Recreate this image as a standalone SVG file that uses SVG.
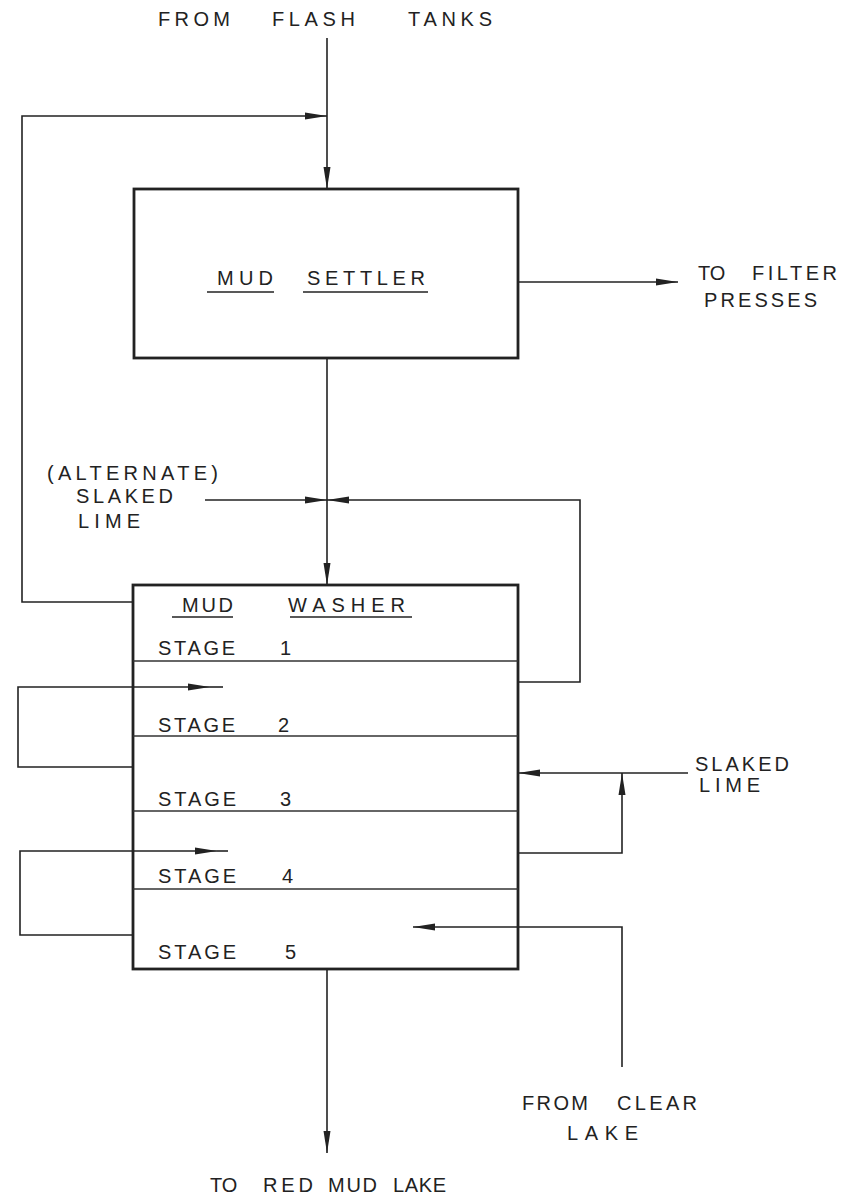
<svg xmlns="http://www.w3.org/2000/svg" width="863" height="1198" viewBox="0 0 863 1198">
<defs>
<marker id="arr" markerUnits="userSpaceOnUse" markerWidth="24" markerHeight="12" viewBox="0 0 24 12" refX="22" refY="6" orient="auto">
<path d="M0,2.5 L22,6 L0,9.5 Z" fill="#222"/>
</marker>
<style>
text{font-family:"Liberation Sans","DejaVu Sans",sans-serif;font-size:20px;fill:#222;}
.box{fill:none;stroke:#222;stroke-width:2.8;}
.div{stroke:#333;stroke-width:1.4;fill:none;}
.c{fill:none;stroke:#222;stroke-width:1.6;}
.ul{stroke:#222;stroke-width:1.7;}
</style>
</defs>
<rect width="863" height="1198" fill="#fff"/>

<g id="connectors">
<path class="c" d="M327,38 V189" marker-end="url(#arr)"/>
<path class="c" d="M133,602 H22 V116 H327" marker-end="url(#arr)"/>
<path class="c" d="M518,282 H678" marker-end="url(#arr)"/>
<path class="c" d="M327,358 V585" marker-end="url(#arr)"/>
<path class="c" d="M205,500 H327" marker-end="url(#arr)"/>
<path class="c" d="M518,682 H580 V500 H327" marker-end="url(#arr)"/>
<path class="c" d="M133,767 H18 V687 H210" marker-end="url(#arr)"/>
<path class="c" d="M210,687 H223"/>
<path class="c" d="M133,935 H20 V851 H217" marker-end="url(#arr)"/>
<path class="c" d="M217,851 H228"/>
<path class="c" d="M688,773 H518" marker-end="url(#arr)"/>
<path class="c" d="M518,853 H622 V773" marker-end="url(#arr)"/>
<path class="c" d="M622,1067 V927 H413" marker-end="url(#arr)"/>
<path class="c" d="M327,969 V1153" marker-end="url(#arr)"/>
</g>

<g id="mud-settler">
<rect class="box" x="134" y="189" width="384" height="169"/>
<text x="217" y="285" textLength="56" lengthAdjust="spacing">MUD</text>
<text x="307" y="285" textLength="118" lengthAdjust="spacing">SETTLER</text>
<line class="ul" x1="207" y1="292" x2="274" y2="292"/>
<line class="ul" x1="303" y1="292" x2="428" y2="292"/>
</g>

<g id="mud-washer">
<rect class="box" x="133" y="585" width="385" height="384"/>
<text x="182" y="612" textLength="51" lengthAdjust="spacing">MUD</text>
<text x="288" y="612" textLength="117" lengthAdjust="spacing">WASHER</text>
<line class="ul" x1="172" y1="617" x2="233" y2="617"/>
<line class="ul" x1="290" y1="617" x2="412" y2="617"/>
<line class="div" x1="133" y1="661" x2="518" y2="661"/>
<line class="div" x1="133" y1="736" x2="518" y2="736"/>
<line class="div" x1="133" y1="811" x2="518" y2="811"/>
<line class="div" x1="133" y1="889" x2="518" y2="889"/>
</g>

<g id="stage-1"><text x="158" y="655" textLength="77" lengthAdjust="spacing">STAGE</text><text x="280" y="655">1</text></g>
<g id="stage-2"><text x="158" y="732" textLength="77" lengthAdjust="spacing">STAGE</text><text x="278" y="732">2</text></g>
<g id="stage-3"><text x="158" y="806" textLength="78" lengthAdjust="spacing">STAGE</text><text x="280" y="806">3</text></g>
<g id="stage-4"><text x="158" y="883" textLength="78" lengthAdjust="spacing">STAGE</text><text x="282" y="883">4</text></g>
<g id="stage-5"><text x="158" y="959" textLength="78" lengthAdjust="spacing">STAGE</text><text x="285" y="959">5</text></g>

<g id="from-flash-tanks">
<text x="158" y="26" textLength="72" lengthAdjust="spacing">FROM</text>
<text x="272" y="26" textLength="83" lengthAdjust="spacing">FLASH</text>
<text x="408" y="26" textLength="84" lengthAdjust="spacing">TANKS</text>
</g>

<g id="to-filter-presses">
<text x="698" y="280">TO</text>
<text x="752" y="280" textLength="85" lengthAdjust="spacing">FILTER</text>
<text x="704" y="307" textLength="113" lengthAdjust="spacing">PRESSES</text>
</g>

<g id="alternate-slaked-lime">
<text x="47" y="480" textLength="171" lengthAdjust="spacing">(ALTERNATE)</text>
<text x="76" y="503" textLength="97" lengthAdjust="spacing">SLAKED</text>
<text x="78" y="528" textLength="62" lengthAdjust="spacing">LIME</text>
</g>

<g id="slaked-lime">
<text x="695" y="771" textLength="94" lengthAdjust="spacing">SLAKED</text>
<text x="699" y="792" textLength="61" lengthAdjust="spacing">LIME</text>
</g>

<g id="from-clear-lake">
<text x="522" y="1110" textLength="66" lengthAdjust="spacing">FROM</text>
<text x="617" y="1110" textLength="80" lengthAdjust="spacing">CLEAR</text>
<text x="567" y="1140" textLength="71" lengthAdjust="spacing">LAKE</text>
</g>

<g id="to-red-mud-lake">
<text x="210" y="1192">TO</text>
<text x="263" y="1192" textLength="50" lengthAdjust="spacing">RED</text>
<text x="328" y="1192" textLength="49" lengthAdjust="spacing">MUD</text>
<text x="393" y="1192" textLength="53" lengthAdjust="spacing">LAKE</text>
</g>
</svg>
